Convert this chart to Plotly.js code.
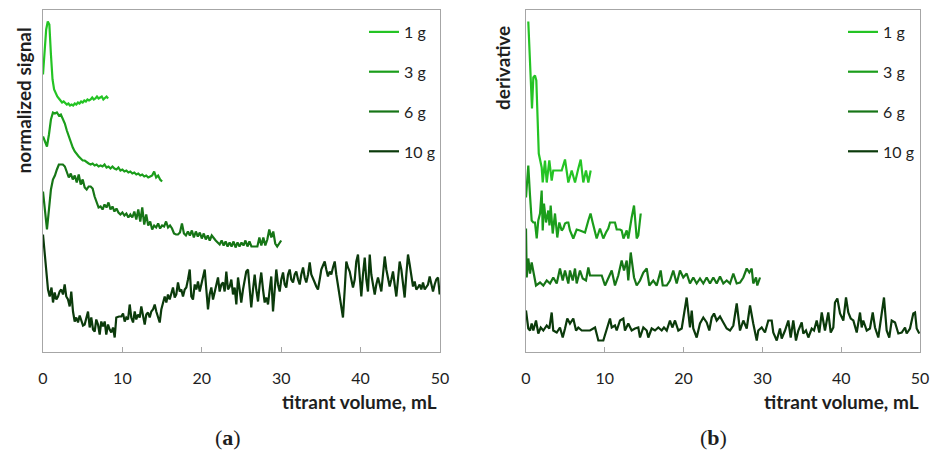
<!DOCTYPE html>
<html>
<head>
<meta charset="utf-8">
<script src="https://cdn.plot.ly/plotly-3.0.1.min.js"></script>
<style>html,body{margin:0;padding:0;background:#fff;}#chart{width:932px;height:454px;}</style>
</head>
<body>
<div id="chart"></div>
<script>
// ---------- data ----------
var seriesNames = ['1 g', '3 g', '6 g', '10 g'];
var seriesColors = ['#24c424', '#1b9e1b', '#167516', '#0b3a0b'];
var tickValues = [0, 10, 20, 30, 40, 50];

// (a) normalized signal (stacked, arbitrary units)
var a1gStart = 0, a1gStep = 0.2;
var a1gY = [2.77,2.97,3.22,3.30,3.27,2.97,2.72,2.62,2.58,2.55,
  2.53,2.51,2.49,2.50,2.48,2.47,2.48,2.46,2.47,2.46,
  2.48,2.47,2.49,2.48,2.50,2.49,2.51,2.50,2.52,2.51,
  2.52,2.54,2.52,2.53,2.55,2.53,2.54,2.55,2.52,2.54,
  2.55,2.53];

var a3gStart = 0, a3gStep = 0.25;
var a3gY = [2.15,2.10,2.05,2.17,2.32,2.39,2.38,2.39,2.36,2.37,
  2.33,2.28,2.21,2.15,2.09,2.04,2.00,1.97,1.95,1.93,
  1.91,1.91,1.89,1.88,1.87,1.88,1.86,1.87,1.85,1.86,
  1.85,1.87,1.84,1.85,1.83,1.85,1.83,1.82,1.84,1.81,
  1.82,1.80,1.81,1.79,1.80,1.78,1.79,1.77,1.78,1.76,
  1.77,1.75,1.76,1.74,1.75,1.76,1.80,1.74,1.76,1.72,
  1.70];

var a6gStart = 0, a6gStep = 0.25;
var a6gY = [1.60,1.37,1.22,1.42,1.62,1.72,1.76,1.82,1.87,1.87,
  1.87,1.85,1.80,1.74,1.78,1.72,1.76,1.69,1.77,1.67,
  1.72,1.64,1.62,1.65,1.65,1.63,1.55,1.49,1.44,1.45,
  1.42,1.47,1.44,1.49,1.42,1.45,1.40,1.43,1.39,1.37,
  1.39,1.36,1.38,1.34,1.37,1.34,1.40,1.32,1.42,1.30,
  1.44,1.27,1.37,1.26,1.30,1.22,1.26,1.24,1.28,1.23,
  1.26,1.25,1.30,1.24,1.26,1.23,1.18,1.17,1.17,1.19,
  1.28,1.18,1.16,1.20,1.16,1.21,1.14,1.20,1.15,1.19,
  1.13,1.18,1.12,1.16,1.11,1.16,1.13,1.11,1.09,1.07,
  1.11,1.06,1.10,1.05,1.09,1.05,1.10,1.04,1.09,1.05,
  1.09,1.06,1.11,1.05,1.10,1.05,1.05,1.05,1.05,1.14,
  1.06,1.14,1.06,1.12,1.22,1.14,1.20,1.08,1.05,1.08,
  1.11];

var a10gX = [0.00,0.63,0.84,1.07,1.26,1.47,1.68,1.89,2.10,2.30,
  2.52,2.73,2.93,3.15,3.36,3.56,3.78,3.99,4.19,4.41,
  4.62,4.82,5.04,5.25,5.45,5.67,5.88,6.08,6.30,6.51,
  6.71,6.93,7.14,7.34,7.56,7.77,7.97,8.19,8.40,8.60,
  8.82,9.03,9.23,
  9.57,9.86,10.08,10.29,10.49,10.71,10.92,11.12,11.34,11.55,
  11.75,11.96,12.18,12.38,12.59,12.81,13.01,13.22,13.44,13.64,
  13.85,14.07,14.27,14.48,14.70,14.90,15.11,15.33,15.53,15.74,
  15.96,16.16,16.37,16.59,16.79,17.00,17.22,17.42,17.63,17.85,
  18.05,18.26,18.48,18.68,18.89,19.11,19.31,19.52,19.74,19.94,
  20.15,20.37,20.57,20.78,20.99,21.20,21.41,21.62,21.83,22.04,
  22.25,22.46,22.67,22.88,23.09,23.30,23.51,23.72,23.93,24.14,
  24.35,24.56,24.77,24.97,25.19,25.40,25.60,25.82,26.03,26.23,
  26.45,26.66,26.86,27.08,27.29,27.49,27.71,27.92,28.12,28.34,
  28.55,28.75,28.97,29.18,29.38,29.60,29.81,30.01,30.23,30.44,
  30.64,30.86,31.07,31.27,31.49,31.70,31.90,32.12,32.33,32.53,
  32.75,32.96,33.16,33.38,33.59,33.79,34.01,34.22,34.42,34.63,
  34.85,35.05,35.26,35.48,35.68,35.89,36.11,36.31,36.52,36.74,
  36.94,37.15,37.37,37.57,37.78,38.00,38.20,38.41,38.63,38.83,
  39.04,39.26,39.46,39.67,39.89,40.09,40.30,40.52,40.72,40.93,
  41.15,41.35,41.56,41.78,41.98,42.19,42.41,42.61,42.82,43.04,
  43.24,43.45,43.66,43.87,44.08,44.29,44.50,44.71,44.92,45.13,
  45.34,45.55,45.76,45.97,46.18,46.39,46.60,46.81,47.02,47.23,
  47.44,47.64,47.86,48.07,48.27,48.49,48.70,48.90,49.12,49.33,
  49.53,49.75,49.96];
var a10gY = [1.17,0.62,0.55,0.64,0.49,0.59,0.52,0.55,0.60,0.62,
  0.57,0.67,0.55,0.52,0.45,0.60,0.40,0.30,0.34,0.29,
  0.36,0.32,0.26,0.27,0.34,0.40,0.24,0.34,0.22,0.20,
  0.32,0.27,0.17,0.30,0.25,0.30,0.17,0.27,0.22,0.19,
  0.24,0.14,0.34,
  0.35,0.35,0.38,0.30,0.34,0.32,0.47,0.34,0.29,0.40,
  0.32,0.37,0.34,0.45,0.34,0.27,0.37,0.39,0.34,0.40,
  0.42,0.47,0.40,0.34,0.29,0.42,0.49,0.55,0.49,0.57,
  0.52,0.59,0.64,0.54,0.57,0.69,0.60,0.62,0.55,0.62,
  0.64,0.72,0.82,0.55,0.52,0.67,0.62,0.70,0.60,0.67,
  0.74,0.82,0.62,0.42,0.57,0.64,0.52,0.60,0.67,0.74,
  0.60,0.67,0.69,0.60,0.80,0.62,0.65,0.72,0.57,0.64,
  0.47,0.74,0.62,0.49,0.62,0.70,0.80,0.82,0.62,0.44,
  0.62,0.77,0.62,0.50,0.67,0.79,0.62,0.49,0.54,0.47,
  0.62,0.75,0.40,0.67,0.82,0.67,0.60,0.72,0.79,0.67,
  0.64,0.77,0.82,0.72,0.69,0.77,0.80,0.72,0.67,0.77,
  0.84,0.74,0.69,0.77,0.89,0.77,0.72,0.69,0.65,0.62,
  0.72,0.82,0.86,0.90,0.82,0.75,0.80,0.77,0.84,0.90,
  0.77,0.65,0.54,0.42,0.34,0.62,0.90,0.84,0.80,0.72,
  0.64,0.72,0.90,0.97,0.77,0.55,0.77,0.94,0.72,0.60,
  0.97,0.77,0.67,0.57,0.67,0.74,0.67,0.60,0.77,0.95,
  0.82,0.72,0.65,0.72,0.80,0.67,0.55,0.72,0.90,0.82,
  0.67,0.54,0.77,0.97,0.87,0.74,0.65,0.70,0.62,0.64,
  0.67,0.62,0.69,0.62,0.64,0.67,0.75,0.67,0.60,0.67,
  0.72,0.74,0.57];

// (b) derivative (stacked, arbitrary units)
var b1gX = [0.29,0.55,0.76,0.93,1.14,1.31,1.46,1.62,1.99,2.12,
  2.41,2.63,2.96,3.26,3.46,4.53,4.95,5.37,5.80,6.22,
  6.64,6.94,7.27,7.61,7.91,8.21];
var b1gY = [3.30,2.81,2.43,2.74,2.76,2.71,2.41,1.98,1.84,1.69,
  1.91,1.69,1.91,1.71,1.81,1.81,1.92,1.69,1.81,1.69,
  1.83,1.92,1.69,1.81,1.69,1.81];

var b3gX = [0.00,0.29,0.51,0.72,0.93,1.14,1.36,1.56,1.78,1.99,
  2.12,2.28,2.54,2.70,2.83,2.98,3.13,3.39,3.68,3.97,
  4.23,4.53,4.73,4.95,5.17,5.37,5.58,6.00,6.43,6.85,
  7.49,7.91,8.19,8.46,8.97,9.39,9.81,10.15,10.44,10.66,
  11.08,11.29,11.51,11.93,12.14,12.37,12.78,12.98,13.41,13.71,
  14.05,14.25,14.56];
var b3gY = [1.54,1.86,1.56,1.31,1.29,1.29,1.13,1.31,1.38,1.61,
  1.21,1.48,1.29,1.36,1.41,1.26,1.46,1.18,1.38,1.14,
  1.29,1.21,1.23,1.28,1.29,1.29,1.21,1.13,1.22,1.21,
  1.19,1.31,1.38,1.29,1.13,1.23,1.13,1.19,1.23,1.29,
  1.29,1.29,1.22,1.22,1.21,1.13,1.21,1.13,1.34,1.46,
  1.13,1.16,1.38];

var b6gX = [0.00,0.09,0.29,0.51,0.72,1.02,1.27,1.78,2.20,2.63,
  3.05,3.46,3.90,4.31,4.66,4.95,5.37,5.58,5.93,6.22,
  6.43,6.85,7.20,7.61,7.91,8.12,8.76,9.61,10.03,10.44,
  10.88,11.29,11.71,12.14,12.44,12.78,12.98,13.29,13.71,14.05,
  14.47,14.89,15.32,15.65,16.15,16.59,17.09,17.35,17.86,18.27,
  18.69,19.12,19.54,19.96,20.39,20.81,21.23,21.66,22.08,22.50,
  22.93,23.35,23.77,24.20,24.62,25.04,25.47,25.89,26.31,26.74,
  27.16,27.58,28.01,28.34,28.64,28.84,29.19,29.35,29.70];
var b6gY = [1.23,0.74,0.93,0.78,0.89,0.74,0.66,0.69,0.66,0.71,
  0.68,0.74,0.68,0.83,0.71,0.81,0.68,0.81,0.71,0.83,
  0.68,0.81,0.73,0.71,0.84,0.76,0.76,0.76,0.66,0.73,
  0.81,0.66,0.76,0.91,0.81,0.91,0.71,0.99,0.74,0.66,
  0.71,0.79,0.83,0.66,0.71,0.66,0.81,0.66,0.66,0.71,
  0.81,0.68,0.81,0.74,0.78,0.68,0.74,0.68,0.73,0.68,
  0.74,0.68,0.74,0.68,0.75,0.68,0.71,0.68,0.78,0.68,
  0.69,0.74,0.83,0.79,0.83,0.68,0.74,0.66,0.74];

var b10gX = [0.00,0.29,0.51,0.72,0.93,1.27,1.56,1.87,2.20,2.63,
  2.96,3.26,3.46,3.90,4.31,4.66,4.95,5.24,5.58,6.00,
  6.35,6.64,7.07,7.49,8.12,8.76,9.18,9.81,10.24,10.66,
  10.88,11.29,11.51,11.93,12.35,12.56,12.98,13.41,13.83,14.25,
  14.47,14.89,15.32,15.52,15.95,16.37,16.79,17.22,17.51,17.86,
  18.27,18.57,18.91,19.33,19.76,19.96,20.39,20.81,21.03,21.23,
  21.66,22.08,22.50,22.93,23.26,23.57,23.86,24.20,24.62,25.04,
  25.47,25.89,26.31,26.74,26.94,27.16,27.58,28.01,28.43,28.64,
  28.84,29.28,29.48,29.91,30.33,30.75,31.18,31.38,31.82,32.23,
  32.45,32.87,33.29,33.59,33.92,34.26,34.56,34.99,35.19,35.53,
  35.83,36.26,36.55,36.89,37.22,37.53,37.94,38.36,38.67,39.00,
  39.21,39.51,39.85,40.27,40.61,40.90,41.21,41.54,41.97,42.39,
  42.60,42.80,43.24,43.65,44.00,44.29,44.71,45.14,45.43,45.77,
  46.10,46.41,46.83,47.25,47.68,48.10,48.31,48.73,49.15,49.37,
  49.58,49.91];
var b10gY = [0.41,0.23,0.21,0.28,0.21,0.31,0.18,0.24,0.21,0.26,
  0.23,0.39,0.21,0.19,0.24,0.14,0.23,0.33,0.28,0.33,
  0.21,0.24,0.21,0.21,0.21,0.24,0.11,0.11,0.21,0.33,
  0.24,0.26,0.21,0.31,0.33,0.21,0.28,0.21,0.23,0.24,
  0.14,0.24,0.21,0.14,0.23,0.21,0.24,0.21,0.24,0.21,
  0.31,0.24,0.31,0.21,0.23,0.33,0.54,0.24,0.41,0.23,
  0.14,0.28,0.34,0.29,0.21,0.34,0.38,0.31,0.35,0.29,
  0.23,0.21,0.26,0.48,0.33,0.21,0.31,0.23,0.46,0.34,
  0.28,0.11,0.21,0.24,0.19,0.31,0.31,0.19,0.11,0.23,
  0.13,0.21,0.31,0.14,0.31,0.11,0.21,0.29,0.18,0.21,
  0.14,0.23,0.21,0.31,0.19,0.39,0.21,0.39,0.19,0.24,
  0.49,0.53,0.38,0.31,0.54,0.39,0.33,0.31,0.19,0.39,
  0.24,0.31,0.21,0.23,0.39,0.24,0.14,0.38,0.54,0.21,
  0.14,0.31,0.29,0.18,0.19,0.24,0.18,0.23,0.38,0.39,
  0.23,0.18];

// ---------- build ----------
function grid(start, step, n) {
  var out = [];
  for (var i = 0; i < n; i++) out.push(+(start + i * step).toFixed(4));
  return out;
}

var FONT = 'Lato, "Open Sans", "DejaVu Sans", sans-serif';
var TXT = '#1e1e1e';

function line(x, y, idx, xa, ya, leg) {
  return {
    type: 'scatter', mode: 'lines', x: x, y: y,
    xaxis: xa, yaxis: ya,
    name: seriesNames[idx], legend: leg, legendgroup: leg + '_' + idx,
    showlegend: true,
    line: {color: seriesColors[idx], width: 2.2},
    hoverinfo: 'skip'
  };
}

var traces = [
  line(grid(a1gStart, a1gStep, a1gY.length), a1gY, 0, 'x', 'y', 'legend'),
  line(grid(a3gStart, a3gStep, a3gY.length), a3gY, 1, 'x', 'y', 'legend'),
  line(grid(a6gStart, a6gStep, a6gY.length), a6gY, 2, 'x', 'y', 'legend'),
  line(a10gX, a10gY, 3, 'x', 'y', 'legend'),
  line(b1gX, b1gY, 0, 'x2', 'y2', 'legend2'),
  line(b3gX, b3gY, 1, 'x2', 'y2', 'legend2'),
  line(b6gX, b6gY, 2, 'x2', 'y2', 'legend2'),
  line(b10gX, b10gY, 3, 'x2', 'y2', 'legend2')
];

var W = 932, H = 454;
var yDom = [1 - 351.5 / H, 1 - 10 / H];
var AXC = '#a6a6a6';

function xAxis(dom, anchor) {
  return {
    domain: dom, anchor: anchor, range: [0, 50],
    tickmode: 'array', tickvals: tickValues, ticktext: tickValues.map(String),
    ticks: 'inside', ticklen: 5, tickwidth: 1, tickcolor: AXC,
    showline: true, linecolor: AXC, linewidth: 1, mirror: true,
    showgrid: false, zeroline: false,
    ticklabelstandoff: 12,
    tickfont: {family: FONT, size: 16, color: TXT}
  };
}
function yAxis(anchor) {
  return {
    domain: yDom, anchor: anchor, range: [0, 3.415],
    showticklabels: false, ticks: '',
    showline: true, linecolor: AXC, linewidth: 1, mirror: true,
    showgrid: false, zeroline: false
  };
}

function legendCfg(xpx) {
  return {
    x: xpx / W, y: 1 - 15 / H, xanchor: 'left', yanchor: 'top',
    bgcolor: 'rgba(0,0,0,0)', borderwidth: 0,
    font: {family: FONT, size: 16, color: TXT},
    tracegroupgap: 16, itemwidth: 30, traceorder: 'grouped'
  };
}

var layout = {
  width: W, height: H,
  margin: {l: 0, r: 0, t: 0, b: 0},
  paper_bgcolor: '#ffffff', plot_bgcolor: '#ffffff',
  showlegend: true,
  xaxis: xAxis([43 / W, 440 / W], 'y'),
  yaxis: yAxis('x'),
  xaxis2: xAxis([526 / W, 920 / W], 'y2'),
  yaxis2: yAxis('x2'),
  legend: legendCfg(364),
  legend2: legendCfg(843),
  annotations: [
    {text: '<b>normalized signal</b>', xref: 'paper', yref: 'paper',
     x: 22.5 / W, y: 1 - 26 / H, xanchor: 'center', yanchor: 'top',
     textangle: -90, showarrow: false, font: {family: FONT, size: 19, color: TXT}},
    {text: '<b>derivative</b>', xref: 'paper', yref: 'paper',
     x: 503 / W, y: 1 - 24 / H, xanchor: 'center', yanchor: 'top',
     textangle: -90, showarrow: false, font: {family: FONT, size: 19, color: TXT}},
    {text: '<b>titrant volume, mL</b>', xref: 'paper', yref: 'paper',
     x: 439 / W, y: 1 - 401 / H, xanchor: 'right', yanchor: 'middle',
     showarrow: false, font: {family: FONT, size: 19, color: TXT}},
    {text: '<b>titrant volume, mL</b>', xref: 'paper', yref: 'paper',
     x: 921 / W, y: 1 - 401 / H, xanchor: 'right', yanchor: 'middle',
     showarrow: false, font: {family: FONT, size: 19, color: TXT}},
    {text: '(<b>a</b>)', xref: 'paper', yref: 'paper',
     x: 228 / W, y: 1 - 437 / H, xanchor: 'center', yanchor: 'middle',
     showarrow: false, font: {family: '"Liberation Serif", "DejaVu Serif", serif', size: 22, color: TXT}},
    {text: '(<b>b</b>)', xref: 'paper', yref: 'paper',
     x: 713 / W, y: 1 - 437 / H, xanchor: 'center', yanchor: 'middle',
     showarrow: false, font: {family: '"Liberation Serif", "DejaVu Serif", serif', size: 22, color: TXT}}
  ]
};

Plotly.newPlot('chart', traces, layout, {displayModeBar: false, staticPlot: true});
</script>
</body>
</html>
